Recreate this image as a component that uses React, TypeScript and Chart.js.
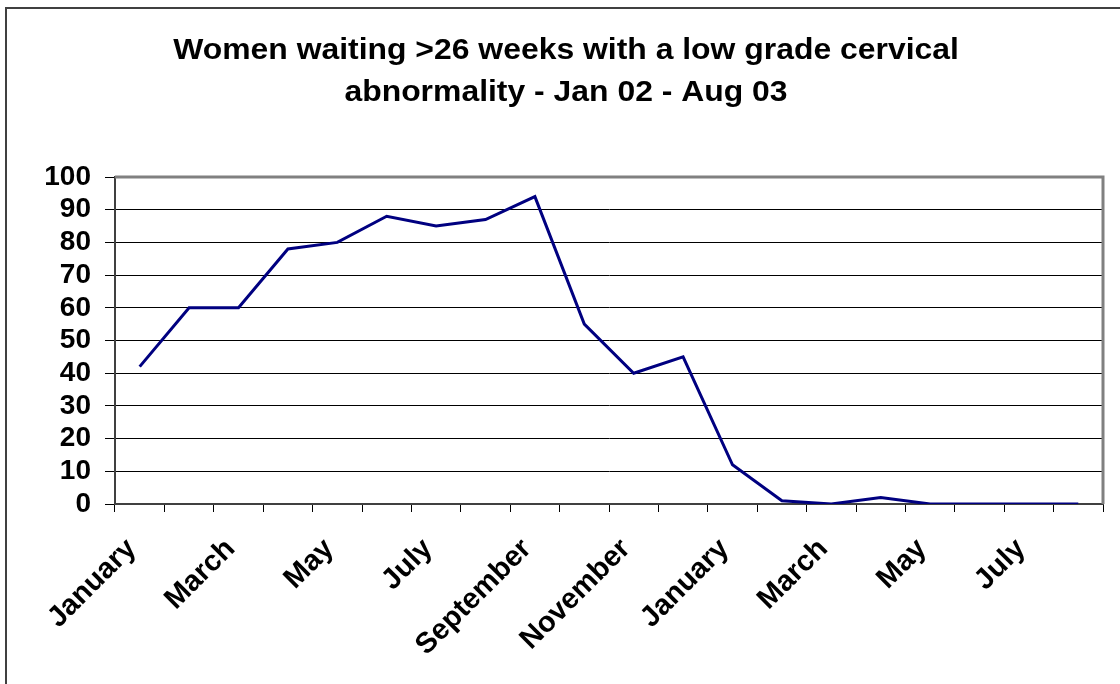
import React, { useEffect, useRef } from "react";
import { Chart, registerables } from "chart.js";

Chart.register(...registerables);

const titleLines = [
  "Women waiting >26 weeks with a low grade cervical",
  "abnormality - Jan 02 - Aug 03",
];

const months = [
  "January", "February", "March", "April", "May", "June", "July", "August",
  "September", "October", "November", "December",
  "January", "February", "March", "April", "May", "June", "July", "August",
];

const waiting = [42, 60, 60, 78, 80, 88, 85, 87, 94, 55, 40, 45, 12, 1, 0, 2, 0, 0, 0, 0];

const yTicks = [0, 10, 20, 30, 40, 50, 60, 70, 80, 90, 100];

const FONT = "'Liberation Sans', Arial, Helvetica, sans-serif";

const framePlugin = {
  id: "frame",
  beforeDraw(chart: any) {
    const ctx = chart.ctx;
    ctx.save();
    ctx.fillStyle = "#ffffff";
    ctx.fillRect(0, 0, chart.width, chart.height);
    ctx.restore();
  },
  afterDraw(chart: any) {
    const ctx = chart.ctx;
    const a = chart.chartArea;
    ctx.save();
    // outer frame
    ctx.strokeStyle = "#404040";
    ctx.lineWidth = 2;
    ctx.beginPath();
    ctx.moveTo(6, chart.height + 5);
    ctx.lineTo(6, 8);
    ctx.lineTo(chart.width + 5, 8);
    ctx.stroke();
    // plot border top/right
    ctx.strokeStyle = "#808080";
    ctx.lineWidth = 3;
    ctx.beginPath();
    ctx.moveTo(a.left, a.top);
    ctx.lineTo(a.right, a.top);
    ctx.lineTo(a.right, a.bottom);
    ctx.stroke();
    // title (slightly stretched horizontally like the original)
    ctx.fillStyle = "#000000";
    ctx.font = `bold 29px ${FONT}`;
    ctx.textAlign = "center";
    ctx.textBaseline = "alphabetic";
    const cx = 566;
    const sx = 1.1;
    ctx.translate(cx, 0);
    ctx.scale(sx, 1);
    ctx.fillText(titleLines[0], 0, 59);
    ctx.fillText(titleLines[1], 0, 101);
    ctx.restore();
  },
};

export default function App() {
  const ref = useRef<HTMLCanvasElement | null>(null);
  useEffect(() => {
    if (!ref.current) return;
    const chart = new Chart(ref.current, {
      type: "line",
      data: {
        labels: months,
        datasets: [
          {
            data: waiting,
            borderColor: "#000080",
            borderWidth: 3,
            pointRadius: 0,
            tension: 0,
            fill: false,
          },
        ],
      },
      options: {
        responsive: false,
        animation: false,
        layout: { padding: { top: 177, right: 17, left: 0, bottom: 0 } },
        plugins: {
          legend: { display: false },
          title: { display: false },
          tooltip: { enabled: false },
        },
        scales: {
          x: {
            offset: true,
            grid: {
              offset: true,
              drawOnChartArea: false,
              tickLength: 8,
              color: "#000000",
              lineWidth: 1,
            },
            border: { color: "#404040", width: 2 },
            ticks: {
              autoSkip: false,
              maxRotation: 45,
              minRotation: 45,
              color: "#000000",
              padding: 20,
              labelOffset: -8,
              font: { family: FONT, size: 29, weight: "bold" },
              callback: (_v: any, i: number) => (i % 2 === 0 ? months[i] : ""),
            },
            afterFit: (s: any) => {
              s.height = 180;
              s.paddingLeft = 0;
              s.paddingRight = 0;
            },
          },
          y: {
            min: 0,
            max: 100,
            afterBuildTicks: (s: any) => {
              s.ticks = yTicks.map((v) => ({ value: v }));
            },
            grid: {
              color: "#000000",
              lineWidth: 1,
              tickLength: 10,
            },
            border: { color: "#404040", width: 2 },
            ticks: {
              autoSkip: false,
              color: "#000000",
              padding: 14,
              font: { family: FONT, size: 28, weight: "bold" },
            },
            afterFit: (s: any) => {
              s.width = 115;
              s.paddingTop = 0;
              s.paddingBottom = 0;
            },
          },
        },
      },
      plugins: [framePlugin],
    });
    return () => chart.destroy();
  }, []);
  return (
    <div style={{ position: "absolute", left: 0, top: 0, width: 1120, height: 684 }}>
      <canvas ref={ref} width={1120} height={684} style={{ width: 1120, height: 684, display: "block" }} />
    </div>
  );
}
